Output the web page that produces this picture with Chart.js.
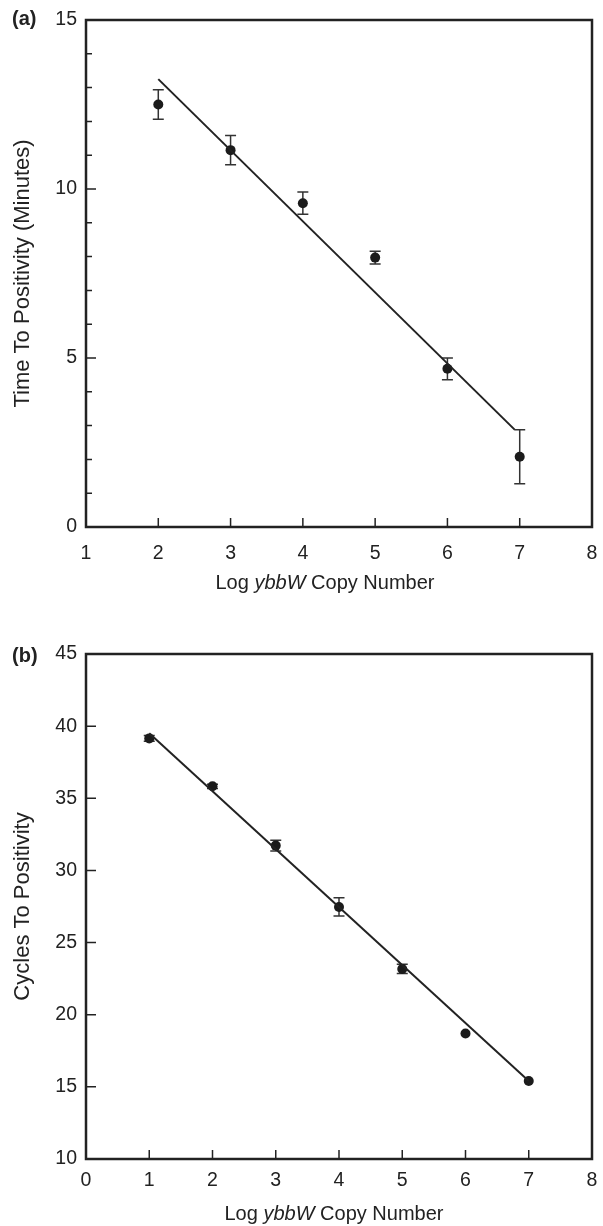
<!DOCTYPE html>
<html>
<head>
<meta charset="utf-8">
<script src="https://cdn.jsdelivr.net/npm/chart.js@4.4.0/dist/chart.umd.min.js"></script>
<style>
body { margin: 0; background: #fff; font-family: "Liberation Sans", Arial, sans-serif; color: #222; }
.panel { position: relative; width: 603px; height: 613px; }
.panel canvas { position: absolute; left: 0; top: 0; }
.tag { position: absolute; left: 12px; font-weight: bold; font-size: 20px; }
.xtitle { position: absolute; width: 506px; text-align: center; font-size: 20px; }
</style>
</head>
<body>
<div class="panel">
  <canvas id="chartA" width="603" height="613"></canvas>
  <div class="tag" style="top:7px">(a)</div>
  <div class="xtitle" style="top:571px; left:72px">Log <i>ybbW</i> Copy Number</div>
</div>
<div class="panel">
  <canvas id="chartB" width="603" height="613"></canvas>
  <div class="tag" style="top:31px">(b)</div>
  <div class="xtitle" style="top:589px; left:81px">Log <i>ybbW</i> Copy Number</div>
</div>
<script>
const INK = "#222";

// panel (a)
const logCopyA = [2, 3, 4, 5, 6, 7];
const timeMean = [12.5, 11.15, 9.58, 7.97, 4.68, 2.08];
const timeErr = [0.44, 0.43, 0.33, 0.19, 0.32, 0.8];
const fitA = [[2, 13.25], [6.93, 2.88]];
const xTicksA = [1, 2, 3, 4, 5, 6, 7, 8];
const yTicksA = [0, 5, 10, 15];
const yMinorA = [1, 2, 3, 4, 6, 7, 8, 9, 11, 12, 13, 14];

// panel (b)
const logCopyB = [1, 2, 3, 4, 5, 6, 7];
const cyclesMean = [39.15, 35.83, 31.72, 27.47, 23.17, 18.7, 15.4];
const cyclesErr = [0.2, 0.15, 0.37, 0.63, 0.32, 0, 0];
const fitB = [[1, 39.5], [7, 15.4]];
const xTicksB = [0, 1, 2, 3, 4, 5, 6, 7, 8];
const yTicksB = [10, 15, 20, 25, 30, 35, 40, 45];

// box around plot + inward ticks
const framePlugin = {
  id: "frame",
  afterDraw(chart, args, opts) {
    const ctx = chart.ctx, a = chart.chartArea;
    const x = chart.scales.x, y = chart.scales.y;
    ctx.save();
    ctx.strokeStyle = INK;
    ctx.lineWidth = 1.5;
    ctx.beginPath();
    opts.xMajor.forEach(v => {
      const px = x.getPixelForValue(v);
      ctx.moveTo(px, a.bottom); ctx.lineTo(px, a.bottom - 9);
    });
    opts.yMajor.forEach(v => {
      const py = y.getPixelForValue(v);
      ctx.moveTo(a.left, py); ctx.lineTo(a.left + 10, py);
    });
    opts.yMinor.forEach(v => {
      const py = y.getPixelForValue(v);
      ctx.moveTo(a.left, py); ctx.lineTo(a.left + 6, py);
    });
    ctx.stroke();
    ctx.lineWidth = 2.5;
    ctx.strokeRect(a.left, a.top, a.right - a.left, a.bottom - a.top);
    ctx.restore();
  }
};

const errorBarPlugin = {
  id: "errorBars",
  beforeDatasetsDraw(chart, args, opts) {
    const ctx = chart.ctx;
    const x = chart.scales.x, y = chart.scales.y;
    ctx.save();
    ctx.strokeStyle = "#333";
    ctx.lineWidth = 1.5;
    ctx.beginPath();
    opts.xs.forEach((xv, i) => {
      const e = opts.errs[i];
      if (!e) return;
      const px = x.getPixelForValue(xv);
      const top = y.getPixelForValue(opts.means[i] + e);
      const bot = y.getPixelForValue(opts.means[i] - e);
      ctx.moveTo(px, top); ctx.lineTo(px, bot);
      ctx.moveTo(px - 5.5, top); ctx.lineTo(px + 5.5, top);
      ctx.moveTo(px - 5.5, bot); ctx.lineTo(px + 5.5, bot);
    });
    ctx.stroke();
    ctx.restore();
  }
};

function makeChart(id, cfg) {
  const font = { family: '"Liberation Sans", Arial, sans-serif', size: 19.5 };
  return new Chart(document.getElementById(id), {
    type: "scatter",
    data: {
      datasets: [
        {
          data: cfg.fit.map(p => ({ x: p[0], y: p[1] })),
          showLine: true,
          borderColor: INK,
          borderWidth: 2,
          pointRadius: 0
        },
        {
          data: cfg.xs.map((v, i) => ({ x: v, y: cfg.means[i] })),
          pointRadius: 5,
          pointBackgroundColor: "#1b1b1b",
          pointBorderColor: "#1b1b1b",
          pointBorderWidth: 0
        }
      ]
    },
    options: {
      responsive: false,
      animation: false,
      layout: { padding: { top: cfg.top, right: 11, left: 0, bottom: 0 } },
      scales: {
        x: {
          min: cfg.xTicks[0],
          max: cfg.xTicks[cfg.xTicks.length - 1],
          afterBuildTicks: s => { s.ticks = cfg.xTicks.map(v => ({ value: v })); },
          afterFit: s => {
            s.height = cfg.xAxisH;
            s.paddingLeft = 0;
            s.paddingRight = 0;
          },
          grid: { display: false, drawTicks: false },
          border: { display: false },
          ticks: { font: font, color: INK, padding: cfg.xPad }
        },
        y: {
          min: cfg.yTicks[0],
          max: cfg.yTicks[cfg.yTicks.length - 1],
          afterBuildTicks: s => { s.ticks = cfg.yTicks.map(v => ({ value: v })); },
          afterFit: s => {
            s.width = 86;
            s.paddingTop = 0;
            s.paddingBottom = 0;
          },
          grid: { display: false, drawTicks: false },
          border: { display: false },
          ticks: { font: font, color: INK, padding: 9 },
          title: {
            display: true,
            text: cfg.yTitle,
            font: { family: font.family, size: 22 },
            color: INK,
            padding: { top: 10, bottom: 0 }
          }
        }
      },
      plugins: {
        legend: { display: false },
        tooltip: { enabled: false },
        frame: { xMajor: cfg.xTicks, yMajor: cfg.yTicks, yMinor: cfg.yMinor },
        errorBars: { xs: cfg.xs, means: cfg.means, errs: cfg.errs }
      }
    },
    plugins: [framePlugin, errorBarPlugin]
  });
}

makeChart("chartA", {
  xs: logCopyA, means: timeMean, errs: timeErr, fit: fitA,
  xTicks: xTicksA, yTicks: yTicksA, yMinor: yMinorA,
  yTitle: "Time To Positivity (Minutes)",
  top: 20, xAxisH: 86, xPad: 15
});

makeChart("chartB", {
  xs: logCopyB, means: cyclesMean, errs: cyclesErr, fit: fitB,
  xTicks: xTicksB, yTicks: yTicksB, yMinor: [],
  yTitle: "Cycles To Positivity",
  top: 41, xAxisH: 67, xPad: 10
});
</script>
</body>
</html>
